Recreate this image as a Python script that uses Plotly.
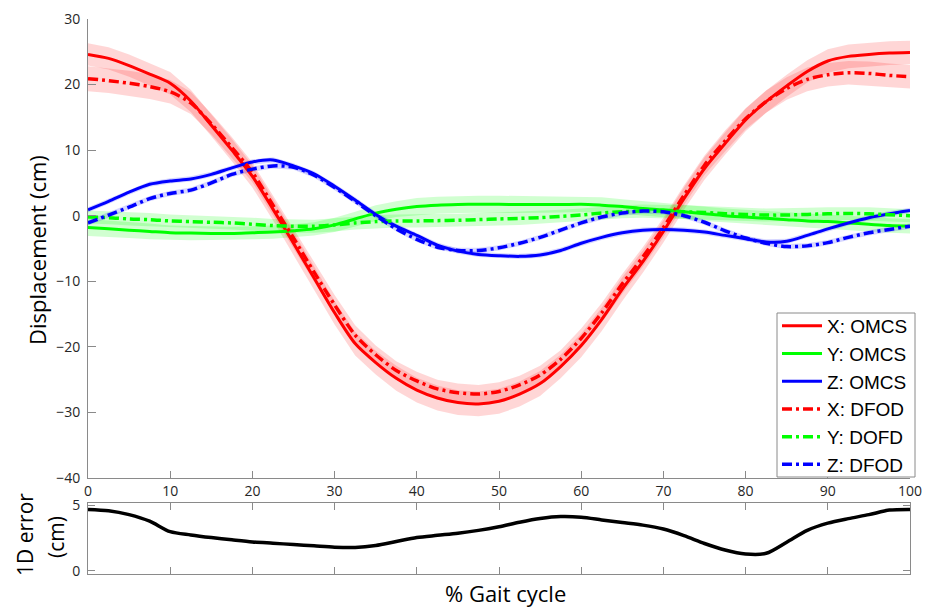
import plotly.graph_objects as go

# ---------------- data ----------------
gait = [0, 2.5, 5, 7.5, 10, 12.5, 15, 17.5, 20, 22.5, 25, 27.5, 30, 32.5, 35, 37.5, 40,
        42.5, 45, 47.5, 50, 52.5, 55, 57.5, 60, 62.5, 65, 67.5, 70, 72.5, 75, 77.5, 80,
        82.5, 85, 87.5, 90, 92.5, 95, 97.5, 100]

x_omcs = [24.6, 24.0, 22.9, 21.6, 20.2, 17.5, 13.8, 10.0, 6.0, 1.0, -4.2, -9.5, -14.8,
          -19.5, -22.4, -24.8, -26.6, -27.8, -28.5, -28.7, -28.3, -27.2, -25.6, -23.0,
          -19.8, -15.8, -11.2, -7.0, -2.4, 2.6, 7.2, 11.0, 14.6, 17.4, 19.8, 22.0, 23.6,
          24.3, 24.6, 24.8, 24.9]
x_dfod = [20.9, 20.6, 20.2, 19.7, 18.9, 17.2, 14.0, 10.4, 6.6, 1.6, -3.4, -8.6, -13.6,
          -18.2, -21.2, -23.6, -25.2, -26.4, -27.0, -27.2, -26.8, -25.8, -24.3, -21.9,
          -18.7, -14.8, -10.4, -6.3, -1.8, 3.1, 7.7, 11.4, 14.8, 17.4, 19.4, 20.8, 21.5,
          21.8, 21.7, 21.4, 21.2]
y_omcs = [-1.8, -2.0, -2.2, -2.4, -2.6, -2.65, -2.7, -2.7, -2.6, -2.5, -2.3, -2.0, -1.4,
          -0.5, 0.4, 1.0, 1.4, 1.6, 1.7, 1.75, 1.75, 1.7, 1.7, 1.7, 1.75, 1.6, 1.4, 1.1,
          0.9, 0.6, 0.3, 0.0, -0.2, -0.4, -0.6, -0.8, -0.9, -1.1, -1.3, -1.5, -1.6]
y_dfod = [-0.2, -0.3, -0.5, -0.6, -0.8, -0.9, -1.0, -1.1, -1.3, -1.5, -1.6, -1.6, -1.4,
          -1.1, -0.9, -0.8, -0.8, -0.75, -0.7, -0.6, -0.5, -0.4, -0.3, -0.1, 0.1, 0.4,
          0.6, 0.7, 0.7, 0.6, 0.5, 0.3, 0.2, 0.1, 0.1, 0.2, 0.3, 0.35, 0.3, 0.15, 0.0]
z_omcs = [0.9, 2.2, 3.6, 4.8, 5.3, 5.6, 6.3, 7.3, 8.2, 8.5, 7.6, 6.4, 4.5, 2.4, 0.2,
          -1.6, -3.0, -4.5, -5.4, -5.9, -6.1, -6.2, -6.0, -5.3, -4.2, -3.3, -2.6, -2.2,
          -2.1, -2.2, -2.5, -3.0, -3.5, -4.0, -3.9, -3.0, -2.0, -1.1, -0.3, 0.3, 0.8]
z_dfod = [-1.1, 0.1, 1.3, 2.6, 3.4, 3.9, 5.0, 6.3, 7.1, 7.6, 7.4, 6.2, 4.3, 2.2, 0.0,
          -2.0, -3.6, -4.8, -5.3, -5.3, -4.9, -4.2, -3.3, -2.2, -1.1, -0.2, 0.4, 0.7,
          0.6, 0.0, -1.0, -2.3, -3.4, -4.2, -4.7, -4.6, -4.1, -3.3, -2.6, -2.1, -1.6]

# standard deviations (shaded bands)
x_omcs_sd = [1.7, 1.7, 1.7, 1.7, 1.7, 1.7, 1.7, 1.7, 1.7, 1.7, 1.7, 1.8, 1.8, 1.8, 1.8,
             1.9, 1.9, 1.9, 1.9, 1.9, 1.9, 1.9, 1.9, 1.8, 1.8, 1.8, 1.8, 1.7, 1.7, 1.7,
             1.7, 1.7, 1.7, 1.7, 1.7, 1.7, 1.8, 1.8, 1.8, 1.8, 1.8]
x_dfod_sd = [1.9, 1.9, 1.9, 1.9, 1.8, 1.7, 1.6, 1.6, 1.5, 1.5, 1.5, 1.5, 1.5, 1.5, 1.4,
             1.4, 1.4, 1.4, 1.4, 1.4, 1.4, 1.4, 1.4, 1.4, 1.5, 1.5, 1.5, 1.5, 1.5, 1.5,
             1.5, 1.6, 1.6, 1.7, 1.7, 1.8, 1.8, 1.8, 1.8, 1.8, 1.8]
y_omcs_sd = [1.3, 1.3, 1.2, 1.2, 1.1, 1.1, 1.0, 1.0, 1.0, 1.0, 1.0, 1.0, 1.1, 1.1, 1.2,
             1.2, 1.3, 1.3, 1.3, 1.3, 1.3, 1.3, 1.3, 1.2, 1.2, 1.2, 1.1, 1.1, 1.1, 1.1,
             1.1, 1.1, 1.1, 1.1, 1.1, 1.1, 1.1, 1.1, 1.1, 1.1, 1.1]
y_dfod_sd = [1.0, 1.0, 1.0, 1.0, 1.0, 1.0, 1.0, 1.0, 1.0, 1.0, 1.0, 1.0, 1.0, 1.0, 1.0,
             1.0, 1.0, 1.0, 1.0, 1.0, 1.0, 1.0, 1.0, 1.0, 1.0, 1.0, 1.0, 1.0, 1.0, 1.0,
             1.0, 1.0, 1.0, 1.0, 1.0, 1.0, 1.0, 1.0, 1.0, 1.0, 1.0]
z_omcs_sd = [0.4, 0.4, 0.4, 0.4, 0.4, 0.4, 0.4, 0.4, 0.4, 0.4, 0.4, 0.4, 0.4, 0.4, 0.4,
             0.4, 0.4, 0.4, 0.4, 0.4, 0.4, 0.4, 0.4, 0.4, 0.4, 0.4, 0.4, 0.4, 0.4, 0.4,
             0.4, 0.4, 0.4, 0.4, 0.4, 0.4, 0.4, 0.4, 0.4, 0.4, 0.4]
z_dfod_sd = [0.4, 0.4, 0.4, 0.4, 0.4, 0.4, 0.4, 0.4, 0.4, 0.4, 0.4, 0.4, 0.4, 0.4, 0.4,
             0.4, 0.4, 0.4, 0.4, 0.4, 0.4, 0.4, 0.4, 0.4, 0.4, 0.4, 0.4, 0.4, 0.4, 0.4,
             0.4, 0.4, 0.4, 0.4, 0.4, 0.4, 0.4, 0.4, 0.4, 0.4, 0.4]

error_1d = [4.7, 4.6, 4.3, 3.8, 3.0, 2.75, 2.55, 2.38, 2.22, 2.12, 2.02, 1.92, 1.82,
            1.8, 1.95, 2.25, 2.55, 2.72, 2.88, 3.1, 3.38, 3.72, 4.0, 4.15, 4.1, 3.9,
            3.7, 3.5, 3.2, 2.7, 2.1, 1.6, 1.3, 1.35, 2.2, 3.1, 3.65, 4.0, 4.3, 4.65, 4.7]

x_ticks = [0, 10, 20, 30, 40, 50, 60, 70, 80, 90, 100]
y_ticks = [-40, -30, -20, -10, 0, 10, 20, 30]
err_ticks = [0, 5]

series = [
    ("X: OMCS", x_omcs, x_omcs_sd, "#FF0000", "solid"),
    ("Y: OMCS", y_omcs, y_omcs_sd, "#00FF00", "solid"),
    ("Z: OMCS", z_omcs, z_omcs_sd, "#0000FF", "solid"),
    ("X: DFOD", x_dfod, x_dfod_sd, "#FF0000", "dashdot"),
    ("Y: DOFD", y_dfod, y_dfod_sd, "#00FF00", "dashdot"),
    ("Z: DFOD", z_dfod, z_dfod_sd, "#0000FF", "dashdot"),
]
band_fill = {"#FF0000": "rgba(255,0,0,0.16)",
             "#00FF00": "rgba(0,255,0,0.18)",
             "#0000FF": "rgba(0,0,255,0.16)"}

# ---------------- figure ----------------
W, H = 925, 609
TICKFONT = "Open Sans, sans-serif"
AXCOL = "#8a8a8a"

fig = go.Figure()

for name, mean, sd, col, dash in series:
    upper = [m + s for m, s in zip(mean, sd)]
    lower = [m - s for m, s in zip(mean, sd)]
    fig.add_trace(go.Scatter(
        x=gait + gait[::-1], y=upper + lower[::-1], fill="toself",
        fillcolor=band_fill[col], line=dict(width=0), mode="lines",
        hoverinfo="skip", showlegend=False, xaxis="x", yaxis="y"))

for i, (name, mean, sd, col, dash) in enumerate(series):
    fig.add_trace(go.Scatter(
        x=gait, y=mean, mode="lines", name=name, legendgroup=f"g{i}",
        line=dict(color=col, width=3 if dash == "solid" else 3.5,
                  dash="solid" if dash == "solid" else "10px,4px,3px,4px",
                  shape="spline", smoothing=0.8),
        xaxis="x", yaxis="y"))

fig.add_trace(go.Scatter(
    x=gait, y=error_1d, mode="lines", showlegend=False,
    line=dict(color="black", width=3.5, shape="spline", smoothing=0.8),
    xaxis="x2", yaxis="y2"))

common_tick = dict(family=TICKFONT, size=14, color="#262626")


def ann(text, px, py, size, family="Open Sans, sans-serif", angle=0):
    return dict(text=text, x=px / W, y=1 - py / H, xref="paper", yref="paper",
                xanchor="center", yanchor="middle", showarrow=False,
                textangle=angle, font=dict(family=family, size=size, color="black"))


fig.update_layout(
    width=W, height=H,
    margin=dict(l=0, r=0, t=0, b=0, pad=0, autoexpand=False),
    paper_bgcolor="white", plot_bgcolor="white",
    xaxis=dict(domain=[88 / W, 910 / W], range=[0, 100], anchor="y",
               tickvals=x_ticks, ticks="inside", ticklen=7, tickcolor=AXCOL,
               showline=True, linecolor=AXCOL, linewidth=1, showgrid=False,
               zeroline=False, tickfont=common_tick, automargin=False),
    yaxis=dict(domain=[1 - 478 / H, 1 - 19 / H], range=[-40, 30], anchor="x",
               tickvals=y_ticks, ticks="inside", ticklen=8, tickcolor=AXCOL,
               showline=True, linecolor=AXCOL, linewidth=1, showgrid=False,
               zeroline=False, tickfont=common_tick, ticklabelstandoff=4,
               automargin=False),
    xaxis2=dict(domain=[88 / W, 910 / W], range=[0, 100], anchor="y2",
                tickvals=x_ticks, ticks="inside", ticklen=7, tickcolor=AXCOL,
                showline=True, mirror="ticks", linecolor=AXCOL, linewidth=1,
                showgrid=False, zeroline=False, showticklabels=False,
                automargin=False),
    yaxis2=dict(domain=[1 - 574 / H, 1 - 503 / H], range=[-0.23, 5.19], anchor="x2",
                tickvals=err_ticks, ticks="inside", ticklen=7, tickcolor=AXCOL,
                showline=True, mirror="ticks", linecolor=AXCOL, linewidth=1,
                showgrid=False, zeroline=False, tickfont=common_tick,
                ticklabelstandoff=4, automargin=False),
    legend=dict(x=777 / W, y=1 - 307 / H, xanchor="left", yanchor="top",
                bgcolor="rgba(0,0,0,0)", borderwidth=0,
                font=dict(family="Liberation Sans, Arial, sans-serif", size=19,
                          color="black"),
                tracegroupgap=0, itemwidth=40),
    shapes=[dict(type="rect", xref="paper", yref="paper",
                 x0=777 / W, x1=915 / W, y0=1 - 477 / H, y1=1 - 313 / H,
                 fillcolor="white", line=dict(color=AXCOL, width=1), layer="above")],
    annotations=[
        ann("Displacement (cm)", 37, 250, 22, angle=-90),
        ann("1D error", 25, 535, 21, angle=-90),
        ann("(cm)", 56, 537, 21, angle=-90),
        ann("% Gait cycle", 505, 593, 22, family=TICKFONT),
    ],
)

fig.write_html("out.html")
